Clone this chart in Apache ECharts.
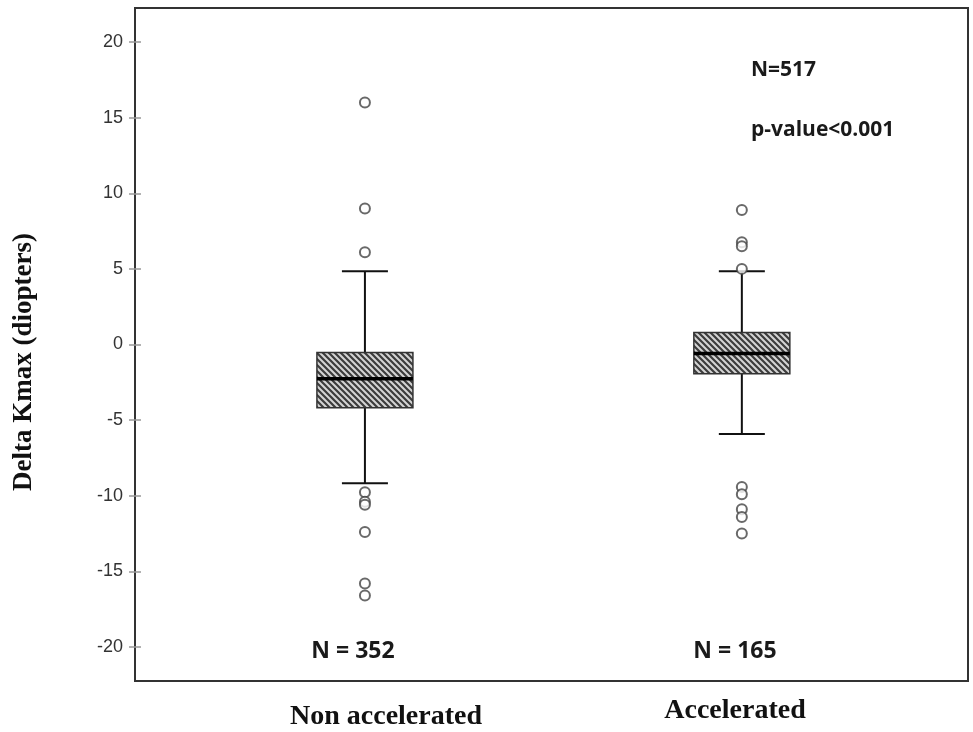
<!DOCTYPE html>
<html>
<head>
<meta charset="utf-8">
<script src="https://cdn.jsdelivr.net/npm/echarts@6/dist/echarts.min.js"></script>
<style>html,body{margin:0;padding:0;background:#fff}#c{width:973px;height:732px}</style>
</head>
<body>
<div id="c"></div>
<script>
// ---- data ----
var categories = ['Non accelerated', 'Accelerated'];
var groupN = [352, 165];
// [lower whisker, Q1, median, Q3, upper whisker]
var nonAccelBox = [-9.17, -4.19, -2.26, -0.53, 4.85];
var accelBox = [-5.91, -1.93, -0.6, 0.8, 4.85];
var nonAccelOutliers = [16.0, 9.0, 6.1, -9.77, -10.4, -10.6, -12.4, -15.8, -16.6];
var accelOutliers = [8.9, 6.76, 6.49, 5.0, -9.43, -9.9, -10.9, -11.4, -12.5];
var yTicks = [-20, -15, -10, -5, 0, 5, 10, 15, 20];
var totalN = 517;
var pText = 'p-value<0.001';

// ---- hatch pattern ----
function makeHatch() {
  var s = 6, cv = document.createElement('canvas');
  cv.width = s; cv.height = s;
  var g = cv.getContext('2d');
  g.fillStyle = '#d4d4d4'; g.fillRect(0, 0, s, s);
  g.strokeStyle = '#3c3c3c'; g.lineWidth = 2.2;
  g.beginPath();
  g.moveTo(-1, -1); g.lineTo(s + 1, s + 1);
  g.moveTo(-2, s - 2); g.lineTo(2, s + 2);
  g.moveTo(s - 2, -2); g.lineTo(s + 2, 2);
  g.stroke();
  return cv;
}
var hatch = makeHatch();

var boxData = [[1].concat(nonAccelBox), [2].concat(accelBox)];
var outlierData = [];
nonAccelOutliers.forEach(function (v) { outlierData.push([1, v]); });
accelOutliers.forEach(function (v) { outlierData.push([2, v]); });

var chart = echarts.init(document.getElementById('c'), null, {renderer: 'canvas'});
var yMin = -22.25, yMax = 22.25;

chart.setOption({
  animation: false,
  backgroundColor: '#fff',
  grid: {left: 135, right: 5, top: 8, bottom: 51, show: true, borderColor: '#333', borderWidth: 2},
  xAxis: {
    type: 'value', min: 0.39, max: 2.6,
    axisLine: {show: false}, axisTick: {show: false}, axisLabel: {show: false}, splitLine: {show: false}
  },
  yAxis: [{
    type: 'value', min: yMin, max: yMax,
    axisLine: {show: true, lineStyle: {color: '#333', width: 2}},
    axisTick: {show: true, customValues: yTicks, length: 6, lineStyle: {color: '#999', width: 1.5}},
    axisLabel: {customValues: yTicks, color: '#333', fontSize: 18, fontFamily: 'Liberation Sans', margin: 12},
    splitLine: {show: false}
  }, {
    type: 'value', min: yMin, max: yMax, position: 'left',
    axisLine: {show: false},
    axisTick: {show: true, inside: true, customValues: yTicks, length: 6, lineStyle: {color: '#999', width: 1.5}},
    axisLabel: {show: false},
    splitLine: {show: false}
  }],
  series: [{
    type: 'custom',
    data: boxData,
    encode: {x: 0, y: [1, 2, 3, 4, 5]},
    renderItem: function (params, api) {
      var x = api.value(0);
      var lo = api.coord([x, api.value(1)]);
      var q1 = api.coord([x, api.value(2)]);
      var md = api.coord([x, api.value(3)]);
      var q3 = api.coord([x, api.value(4)]);
      var hi = api.coord([x, api.value(5)]);
      var cx = lo[0], bw = 96, cw = 46;
      var line = {stroke: '#111', lineWidth: 2};
      return {
        type: 'group',
        children: [
          {type: 'line', shape: {x1: cx, y1: hi[1], x2: cx, y2: q3[1]}, style: line},
          {type: 'line', shape: {x1: cx, y1: q1[1], x2: cx, y2: lo[1]}, style: line},
          {type: 'line', shape: {x1: cx - cw / 2, y1: hi[1], x2: cx + cw / 2, y2: hi[1]}, style: line},
          {type: 'line', shape: {x1: cx - cw / 2, y1: lo[1], x2: cx + cw / 2, y2: lo[1]}, style: line},
          {type: 'rect', shape: {x: cx - bw / 2, y: q3[1], width: bw, height: q1[1] - q3[1]},
            style: {fill: {image: hatch, repeat: 'repeat'}, stroke: '#333', lineWidth: 1.5}},
          {type: 'line', shape: {x1: cx - bw / 2, y1: md[1], x2: cx + bw / 2, y2: md[1]},
            style: {stroke: '#000', lineWidth: 3.5}}
        ]
      };
    },
    z: 2
  }, {
    type: 'scatter',
    data: outlierData,
    symbol: 'emptyCircle',
    symbolSize: 10,
    itemStyle: {color: '#444', borderColor: '#444', borderWidth: 1.9},
    z: 3
  }],
  graphic: [
    {type: 'text', x: 24, y: 362, rotation: Math.PI / 2,
      style: {text: 'Delta Kmax (diopters)', font: 'bold 27px "Liberation Serif"', fill: '#111', align: 'center', verticalAlign: 'middle'}},
    {type: 'text', x: 386, y: 717,
      style: {text: categories[0], font: 'bold 28px "Liberation Serif"', fill: '#111', align: 'center', verticalAlign: 'middle'}},
    {type: 'text', x: 735, y: 711,
      style: {text: categories[1], font: 'bold 28px "Liberation Serif"', fill: '#111', align: 'center', verticalAlign: 'middle'}},
    {type: 'text', x: 353, y: 651,
      style: {text: 'N = ' + groupN[0], font: 'bold 23px "Open Sans"', fill: '#1a1a1a', align: 'center', verticalAlign: 'middle'}},
    {type: 'text', x: 735, y: 651,
      style: {text: 'N = ' + groupN[1], font: 'bold 23px "Open Sans"', fill: '#1a1a1a', align: 'center', verticalAlign: 'middle'}},
    {type: 'text', x: 751, y: 70,
      style: {text: 'N=' + totalN, font: 'bold 21px "Open Sans"', fill: '#1a1a1a', align: 'left', verticalAlign: 'middle'}},
    {type: 'text', x: 751, y: 130,
      style: {text: pText, font: 'bold 21px "Open Sans"', fill: '#1a1a1a', align: 'left', verticalAlign: 'middle'}}
  ]
});
</script>
</body>
</html>
